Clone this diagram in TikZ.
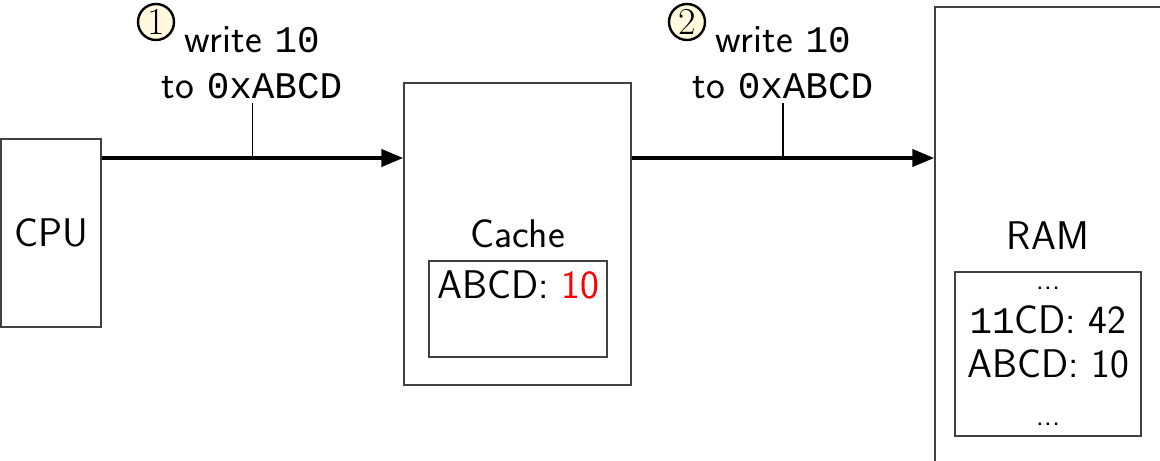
\documentclass[tikz,border=0pt]{standalone}
\usepackage{fontspec}
\setmonofont[Scale=0.94]{Liberation Mono}
\usetikzlibrary{arrows.meta,calc}
\definecolor{numfill}{RGB}{255,249,222}
\begin{document}
\begin{tikzpicture}[x=0.5pt,y=-0.5pt,
  font=\sffamily\fontsize{20}{24}\selectfont,
  box/.style={draw=black!75, line width=0.7pt, inner sep=0pt},
  flow/.style={line width=2pt, -{Triangle[length=11pt,width=8.5pt]}},
  tick/.style={line width=0.9pt},
  stepnum/.style={circle, draw, line width=1.2pt, fill=numfill, minimum size=18pt, inner sep=0pt, font=\rmfamily\fontsize{19}{19}\selectfont},
  lbl/.style={anchor=base, inner sep=2pt},
  smalldots/.style={lbl, font=\sffamily\fontsize{15}{15}\selectfont}]
\useasboundingbox (0,0) rectangle (1160,460);
% boxes
\node[box, minimum width=50pt, minimum height=94pt] (cpu) at (51,233) {CPU};
\node[box, minimum width=113.5pt, minimum height=151pt] (cache) at (517.5,234) {Cache};
\node[box, minimum width=89pt, minimum height=48pt] (cachemem) at (518,309) {};
\node[lbl] (cacheentry) at (518,298) {ABCD: \textcolor{red}{10}};
\node[box, minimum width=113pt, minimum height=229pt] (ram) at (1048,236) {RAM};
\node[box, minimum width=93pt, minimum height=82pt] (rammem) at (1048,354) {};
\node[smalldots] (ramdotsa) at (1048,289) {...};
\node[lbl] (ramentrya) at (1048,333) {\texttt{11}CD: 42};
\node[lbl] (ramentryb) at (1048,377) {ABCD: 10};
\node[smalldots] (ramdotsb) at (1048,425) {...};
% arrows
\coordinate (aones) at (cpu.east |- 0,158);
\coordinate (aonee) at (cache.west |- 0,158);
\coordinate (atwos) at (cache.east |- 0,158);
\coordinate (atwoe) at (ram.west |- 0,158);
\draw[flow] (aones) -- (aonee);
\draw[flow] (atwos) -- (atwoe);
\coordinate (mone) at ($(aones)!0.5!(aonee)$);
\coordinate (mtwo) at ($(atwos)!0.5!(atwoe)$);
% labels
\node[lbl] (lonea) at (252,53) {write \texttt{10}};
\node[lbl] (loneb) at (252,98) {to \texttt{0xABCD}};
\node[lbl] (ltwoa) at (783,53) {write \texttt{10}};
\node[lbl] (ltwob) at (783,98) {to \texttt{0xABCD}};
\draw[tick] (loneb.south -| mone) -- (mone);
\draw[tick] (ltwob.south -| mtwo) -- (mtwo);
\node[stepnum] (none) at (156,22) {1};
\node[stepnum] (ntwo) at (687,22) {2};
\end{tikzpicture}
\end{document}
